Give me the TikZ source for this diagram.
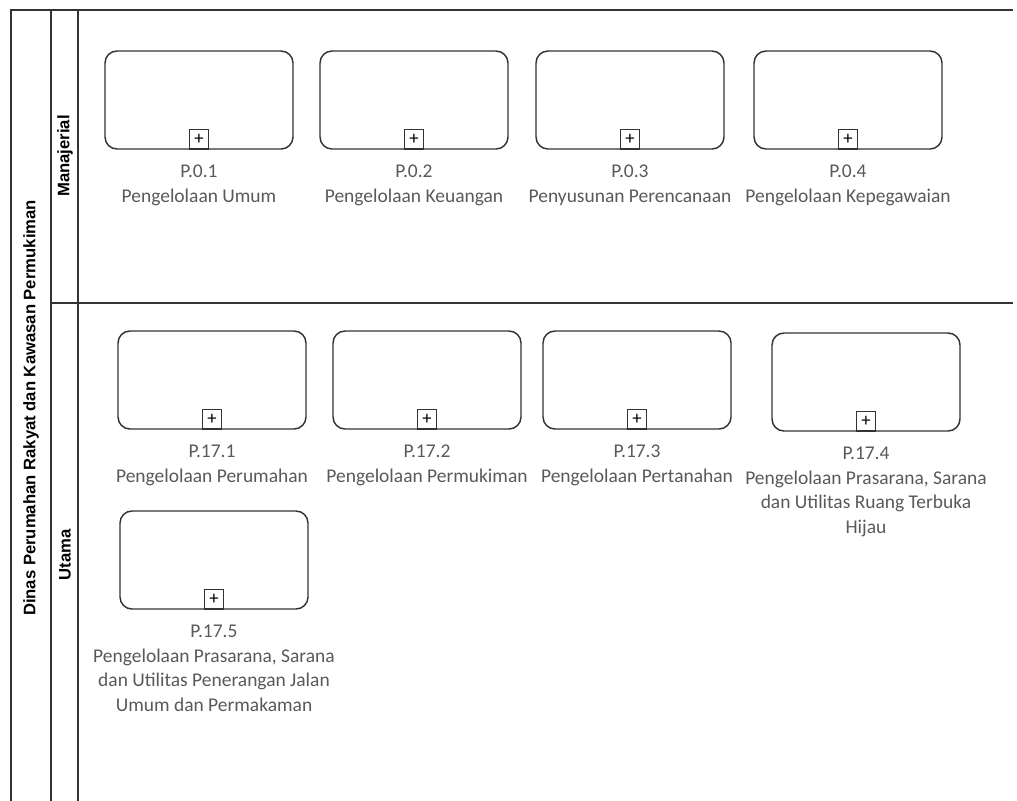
\documentclass[tikz,border=0pt]{standalone}
\usepackage{fontspec}
\setmainfont{Carlito}
\newfontfamily\judulfont{Liberation Sans}
\usetikzlibrary{positioning}
\definecolor{teks}{HTML}{595959}
\definecolor{garis}{HTML}{333333}

\newcommand{\subproses}[3]{%
  \node[tugas] (#1) at (#2) {};
  \node[tanda, above=0pt of #1.south] (#1-plus) {+};
  \node[ket, below=12pt of #1.south] (#1-ket) {#3};}

\begin{document}
\begin{tikzpicture}[x=0.75pt, y=-0.75pt, outer sep=0pt,
  tugas/.style={draw=garis, line width=1.1pt, rounded corners=9pt, minimum width=141pt, minimum height=73.5pt},
  tanda/.style={draw=garis, line width=0.8pt, minimum size=14.5pt, inner sep=0pt, font=\fontsize{14}{14}\selectfont},
  ket/.style={align=center, inner sep=0pt, text=teks, font=\fontsize{14.6}{18.4}\selectfont},
  judul/.style={rotate=90, inner sep=0pt, font=\judulfont\bfseries\fontsize{12.5}{15}\selectfont},
  lajur/.style={draw=garis, line width=1.1pt}]
  \useasboundingbox (0,0) rectangle (1017,800);
  \clip (0,0) rectangle (1017,800);

  % kolam dan lajur
  \draw[lajur] (1013,10) -- (11,10) -- (11,806);
  \draw[lajur] (51,10) -- (51,806);
  \draw[lajur] (78,10) -- (78,806);
  \draw[lajur] (51,303) -- (1013,303);
  \node[judul] (dinas) at (31,408) {Dinas Perumahan Rakyat dan Kawasan Permukiman};
  \node[judul] (manajerial) at (65,156) {Manajerial};
  \node[judul] (utama) at (65,555) {Utama};

  % manajerial
  \subproses{p01}{199,100}{P.0.1\\Pengelolaan Umum}
  \subproses{p02}{414,100}{P.0.2\\Pengelolaan Keuangan}
  \subproses{p03}{630,100}{P.0.3\\Penyusunan Perencanaan}
  \subproses{p04}{848,100}{P.0.4\\Pengelolaan Kepegawaian}

  % utama
  \subproses{p171}{212,380}{P.17.1\\Pengelolaan Perumahan}
  \subproses{p172}{427,380}{P.17.2\\Pengelolaan Permukiman}
  \subproses{p173}{637,380}{P.17.3\\Pengelolaan Pertanahan}
  \subproses{p174}{866,382}{P.17.4\\Pengelolaan Prasarana, Sarana\\dan Utilitas Ruang Terbuka\\Hijau}
  \subproses{p175}{214,560}{P.17.5\\Pengelolaan Prasarana, Sarana\\dan Utilitas Penerangan Jalan\\Umum dan Permakaman}
\end{tikzpicture}
\end{document}
